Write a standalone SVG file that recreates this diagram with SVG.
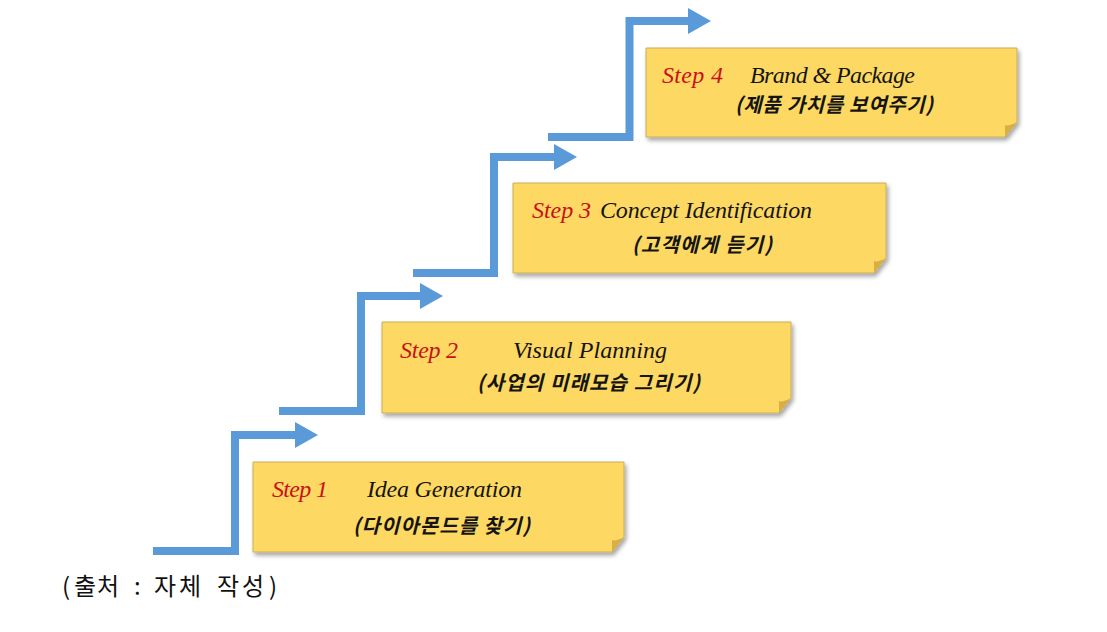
<svg xmlns="http://www.w3.org/2000/svg" width="1107" height="632" viewBox="0 0 1107 632">
<style>
.box{fill:#FDD862;stroke:#C9AE5A;stroke-width:1;filter:url(#sh);}
.curl{fill:#D9AE45;}
.conn{fill:none;stroke:#5A9AD8;stroke-width:8;stroke-linejoin:miter;marker-end:url(#ah);}
.step{font-family:"Liberation Serif",serif;font-style:italic;font-size:24px;fill:#C8101A;}
.title{font-family:"Liberation Serif",serif;font-style:italic;font-size:24px;fill:#141414;}
.kr{font-family:"Noto Sans CJK KR",sans-serif;font-weight:700;font-style:italic;font-size:20px;fill:#141414;}
.src{font-family:"Noto Sans CJK KR",sans-serif;font-size:24px;fill:#111;}
</style>
<defs>
<filter id="sh" x="-5%" y="-10%" width="115%" height="130%">
<feDropShadow dx="2" dy="3" stdDeviation="2" flood-color="#000" flood-opacity="0.35"/>
</filter>
<marker id="ah" markerUnits="userSpaceOnUse" markerWidth="24" markerHeight="26" refX="0" refY="13" orient="auto">
<path d="M0,0 L23,13 L0,26 Z" fill="#5A9AD8"/>
</marker>
</defs>
<rect width="1107" height="632" fill="#fff"/>
<g id="connectors">
<polyline class="conn" points="153,551 235,551 235,435 295,435"/>
<polyline class="conn" points="279,411 361,411 361,296 420,296"/>
<polyline class="conn" points="413,273 494,273 494,157 554,157"/>
<polyline class="conn" points="548,137 629.5,137 629.5,21 688,21"/>
</g>
<g id="step1">
<path class="box" d="M253,462 H624 V537 L612,552 H253 Z"/>
<path class="curl" d="M624,537 C619,540 614,541 612,540 L612,552 Z"/>
<text class="step" x="272" y="497" textLength="56">Step 1</text>
<text class="title" x="367" y="497" textLength="155">Idea Generation</text>
<text class="kr" x="353" y="533" textLength="177">(다이아몬드를 찾기)</text>
</g>
<g id="step2">
<path class="box" d="M382,322 H791 V398 L779,413 H382 Z"/>
<path class="curl" d="M791,398 C786,401 781,402 779,401 L779,413 Z"/>
<text class="step" x="400" y="358" textLength="58">Step 2</text>
<text class="title" x="513" y="358" textLength="154">Visual Planning</text>
<text class="kr" x="477" y="390" textLength="223">(사업의 미래모습 그리기)</text>
</g>
<g id="step3">
<path class="box" d="M513,183 H886 V258 L874,273 H513 Z"/>
<path class="curl" d="M886,258 C881,261 876,262 874,261 L874,273 Z"/>
<text class="step" x="532" y="218" textLength="59">Step 3</text>
<text class="title" x="600" y="218" textLength="212">Concept Identification</text>
<text class="kr" x="632" y="252" textLength="140">(고객에게 듣기)</text>
</g>
<g id="step4">
<path class="box" d="M646,48 H1017 V122 L1005,137 H646 Z"/>
<path class="curl" d="M1017,122 C1012,125 1007,126 1005,125 L1005,137 Z"/>
<text class="step" x="662" y="83" textLength="61">Step 4</text>
<text class="title" x="750" y="83" textLength="165">Brand &amp; Package</text>
<text class="kr" x="735" y="112" textLength="198">(제품 가치를 보여주기)</text>
</g>
<text class="src" y="595"><tspan x="62">(</tspan><tspan x="74">출</tspan><tspan x="97">처</tspan><tspan x="134">:</tspan><tspan x="154">자</tspan><tspan x="179">체</tspan><tspan x="217">작</tspan><tspan x="242">성</tspan><tspan x="269">)</tspan></text>
</svg>
